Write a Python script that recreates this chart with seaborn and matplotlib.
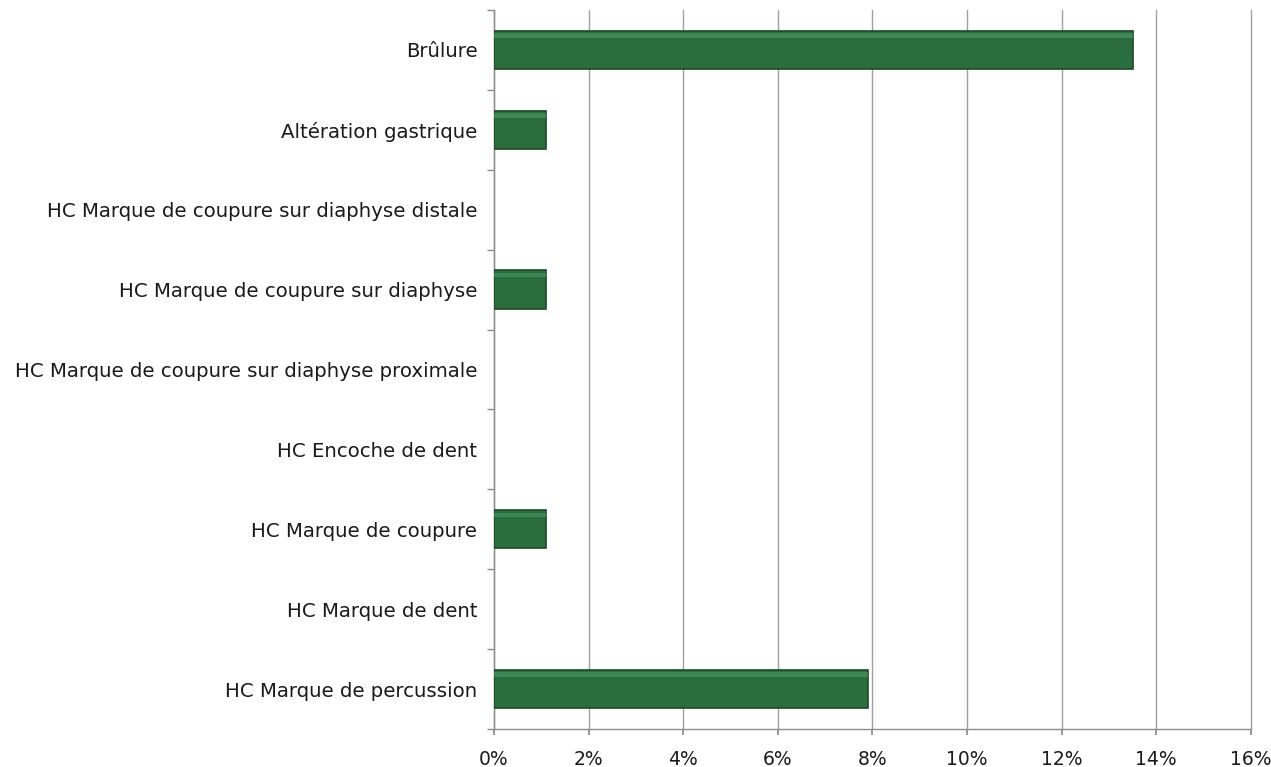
import numpy as np
import pandas as pd
import matplotlib
matplotlib.use("Agg")
import matplotlib.pyplot as plt
import seaborn as sns
from matplotlib.ticker import FuncFormatter, MultipleLocator

categories = [
    "Brûlure",
    "Altération gastrique",
    "HC Marque de coupure sur diaphyse distale",
    "HC Marque de coupure sur diaphyse",
    "HC Marque de coupure sur diaphyse proximale",
    "HC Encoche de dent",
    "HC Marque de coupure",
    "HC Marque de dent",
    "HC Marque de percussion",
]
values = [13.5, 1.1, 0.0, 1.1, 0.0, 0.0, 1.1, 0.0, 7.9]

df = pd.DataFrame({"categorie": categories, "pourcentage": values})

sns.set_theme(style="white")
plt.rcParams["font.family"] = ["DejaVu Sans"]

fig = plt.figure(figsize=(12.71, 7.67), dpi=100)
ax = fig.add_axes([0.3887, 0.0495, 0.5955, 0.9375])

sns.barplot(data=df, y="categorie", x="pourcentage", orient="h",
            color="#2b6e3d", saturation=1, width=0.48,
            edgecolor="#1b4a28", linewidth=1.2, ax=ax, zorder=3)

# empty categories get no outline sliver at zero
for patch in ax.patches:
    if patch.get_width() == 0:
        patch.set_visible(False)
    else:
        # light highlight along the top edge of each bar
        x0, y0 = patch.get_x(), patch.get_y()
        w, h = patch.get_width(), patch.get_height()
        ax.add_patch(plt.Rectangle((x0, y0 + 0.03), w, h * 0.12,
                                   facecolor="#4f9a63", edgecolor="none",
                                   alpha=0.6, zorder=4))

ax.set_xlim(0, 16)
ax.set_ylim(len(categories) - 0.5, -0.5)
ax.xaxis.set_major_locator(MultipleLocator(2))
ax.xaxis.set_major_formatter(FuncFormatter(lambda v, _: f"{v:.0f}%"))
ax.grid(axis="x", color="#a0a0a0", linewidth=1.0, zorder=0)
ax.set_axisbelow(True)
for line in ax.get_xgridlines():
    line.set_clip_on(False)

ax.set_xlabel("")
ax.set_ylabel("")

for side in ("top", "right"):
    ax.spines[side].set_visible(False)
for side in ("left", "bottom"):
    ax.spines[side].set_color("#8c8c8c")
    ax.spines[side].set_linewidth(1.0)

ax.set_yticks(np.arange(-0.5, len(categories)), minor=True)
ax.tick_params(axis="y", which="major", length=0, pad=12, labelsize=14.2,
               labelcolor="#1a1a1a")
ax.tick_params(axis="y", which="minor", length=5, color="#8c8c8c", left=True)
ax.tick_params(axis="x", which="major", length=4, color="#8c8c8c", bottom=True,
               labelsize=13.5, labelcolor="#1a1a1a", pad=11)

fig.savefig("out.png", dpi=100, facecolor="white")
